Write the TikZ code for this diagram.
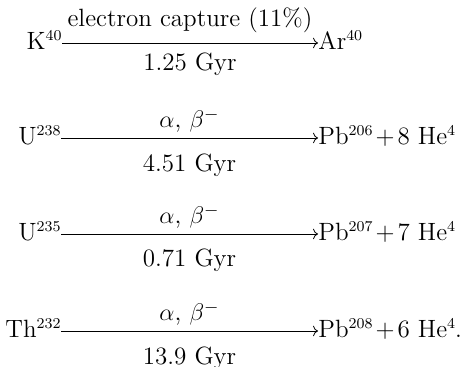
\documentclass[tikz,border=0pt]{standalone}
\usepackage{tikz}
\usetikzlibrary{arrows.meta}
\newcommand{\mass}[1]{\raisebox{0.85ex}{\fontsize{7.5}{8}\selectfont #1}}
\newcommand{\plus}{\kern1.5pt+\kern1.5pt}

\begin{document}
\begin{tikzpicture}[
  font=\fontsize{12.5}{15}\selectfont,
  nuc/.style={inner sep=0pt, text height=7pt, text depth=0pt},
  parent/.style={nuc, anchor=east},
  daughter/.style={nuc, anchor=west},
  decay/.style={-{Computer Modern Rightarrow}, line width=0.4pt},
  lbl/.style={anchor=base, inner sep=0pt}
]
\useasboundingbox (0,0) rectangle (232pt,183.5pt);
\node[parent] (k40) at (31pt,162pt) {K\mass{40}};
\node[daughter] (ar40) at (159pt,162pt) {Ar\mass{40}};
\node[parent] (u238) at (30.5pt,114.5pt) {U\mass{238}};
\node[daughter] (pb206) at (159pt,114.5pt) {Pb\mass{206}\plus 8 He\mass{4}};
\node[parent] (u235) at (30.5pt,66.5pt) {U\mass{235}};
\node[daughter] (pb207) at (159pt,66.5pt) {Pb\mass{207}\plus 7 He\mass{4}};
\node[parent] (th232) at (30.5pt,18pt) {Th\mass{232}};
\node[daughter] (pb208) at (159pt,18pt) {Pb\mass{208}\plus 6 He\mass{4}.};
\draw[decay] (k40) -- node[lbl, yshift=8pt] {electron capture (11\%)}
  node[lbl, yshift=-13.8pt] {1.25 Gyr} (ar40);
\draw[decay] (u238) -- node[lbl, yshift=5pt] {$\alpha$, $\beta^-$}
  node[lbl, yshift=-17pt] {4.51 Gyr} (pb206);
\draw[decay] (u235) -- node[lbl, yshift=5pt] {$\alpha$, $\beta^-$}
  node[lbl, yshift=-16.5pt] {0.71 Gyr} (pb207);
\draw[decay] (th232) -- node[lbl, yshift=5pt] {$\alpha$, $\beta^-$}
  node[lbl, yshift=-17pt] {13.9 Gyr} (pb208);
\end{tikzpicture}
\end{document}
